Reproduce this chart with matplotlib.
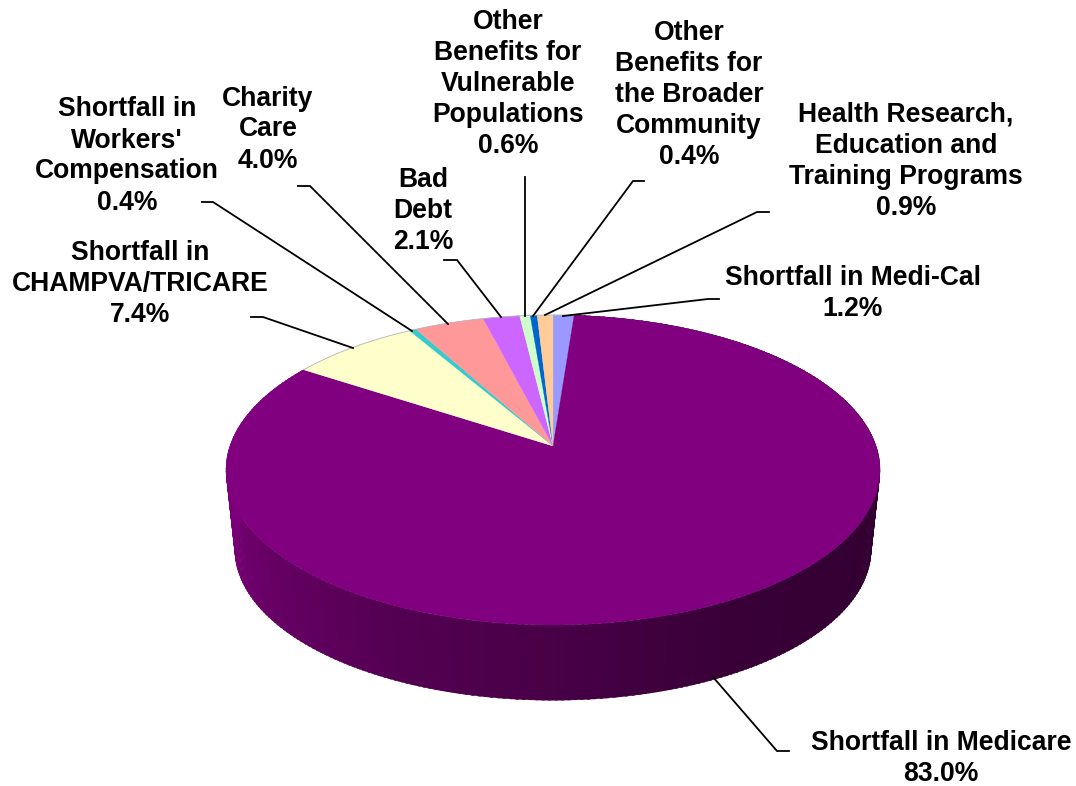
import numpy as np
import matplotlib
matplotlib.use("Agg")
import matplotlib.pyplot as plt
from matplotlib.patches import Polygon

categories = ["Shortfall in Medi-Cal", "Shortfall in Medicare", "Shortfall in CHAMPVA/TRICARE",
              "Shortfall in Workers' Compensation", "Charity Care", "Bad Debt",
              "Other Benefits for Vulnerable Populations", "Other Benefits for the Broader Community",
              "Health Research, Education and Training Programs"]
values = [1.2, 83.0, 7.4, 0.4, 4.0, 2.1, 0.6, 0.4, 0.9]
colors = ["#9999FF", "#800080", "#FFFFCC", "#33CCCC", "#FF9999", "#CC66FF", "#CCFFCC", "#0066CC", "#FFCC99"]
label_text = ["Shortfall in Medi-Cal\n1.2%", "Shortfall in Medicare\n83.0%", "Shortfall in\nCHAMPVA/TRICARE\n7.4%",
              "Shortfall in\nWorkers'\nCompensation\n0.4%", "Charity\nCare\n4.0%", "Bad\nDebt\n2.1%",
              "Other\nBenefits for\nVulnerable\nPopulations\n0.6%", "Other\nBenefits for\nthe Broader\nCommunity\n0.4%",
              "Health Research,\nEducation and\nTraining Programs\n0.9%"]
label_pos = [(853, 293.5), (941, 758.5), (140, 283.5), (127, 156), (268, 129.5), (423, 211), (508, 84), (689, 95), (906, 161.5)]
leaders = [[(563, 316), (708, 299), (719, 299)],
           [(713, 677), (777, 751), (789, 751)],
           [(353, 348), (263, 317), (251, 317)],
           [(412, 331), (213, 202), (202, 202)],
           [(448, 324), (310, 186), (298, 186)],
           [(501, 317), (457, 260), (444, 260)],
           [(525, 316), (525, 177)],
           [(533, 316), (633, 181), (644, 181)],
           [(545, 315), (757, 212), (769, 212)]]

shade_theta = [90, 150, 180, 205, 225, 240, 255, 270, 310]
shade_level = [0x30, 0x38, 0x48, 0x54, 0x62, 0x6c, 0x76, 0x7e, 0x80]

CX, CY = 553, 446
A, B, K = 323.0, 151.3, 0.155
LOW_CY, LOW_S = 526, 0.973


def project(theta_deg, cy=CY, s=1.0):
    t = np.radians(theta_deg)
    u, v = np.sin(t), -np.cos(t)
    d = 1 - K * v
    return np.column_stack([CX + s * A * u / d, cy + s * B * v / d])


fig = plt.figure(figsize=(10.76, 7.86), dpi=100)
ax = fig.add_axes([0, 0, 1, 1])
ax.set_xlim(0, 1076)
ax.set_ylim(786, 0)
ax.axis("off")

edges = np.concatenate([[0], np.cumsum(values)]) * 3.6

# Side wall of the Medicare slice
start, end = edges[1], edges[2]
steps = np.arange(start, end + 1, 1.0)
for t0, t1 in zip(steps[:-1], steps[1:]):
    ts = np.array([t0, t1 + 0.4])
    top = project(ts)
    low = project(ts, LOW_CY, LOW_S)
    g = np.interp(t0, shade_theta, shade_level) / 255
    col = (g, 0, g * 0.98)
    ax.add_patch(Polygon(np.vstack([top, low[::-1]]), closed=True, facecolor=col, edgecolor=col, lw=0.3, zorder=1))

# Top face
for i, c in enumerate(colors):
    ts = np.linspace(edges[i], edges[i + 1], max(3, int((edges[i + 1] - edges[i]) * 2)))
    pts = np.vstack([[CX, CY], project(ts)])
    ax.add_patch(Polygon(pts, closed=True, facecolor=c, edgecolor=c, lw=0.2, zorder=2))

# Thin grey rim along the back of the pie
back = project(np.linspace(edges[2], 360 + edges[1], 120))
ax.plot(back[:, 0], back[:, 1], color="#b8b0b8", lw=0.6, zorder=3)

for pts in leaders:
    p = np.array(pts)
    ax.plot(p[:, 0], p[:, 1], color="black", lw=1.3, zorder=4, solid_joinstyle="miter")

for txt, (x, y) in zip(label_text, label_pos):
    ax.text(x, y, txt, ha="center", va="center", family="Liberation Sans", fontweight="bold",
            fontsize=19.1, linespacing=1.25, color="black", zorder=5)

fig.savefig("out.png", dpi=100, facecolor="white")
